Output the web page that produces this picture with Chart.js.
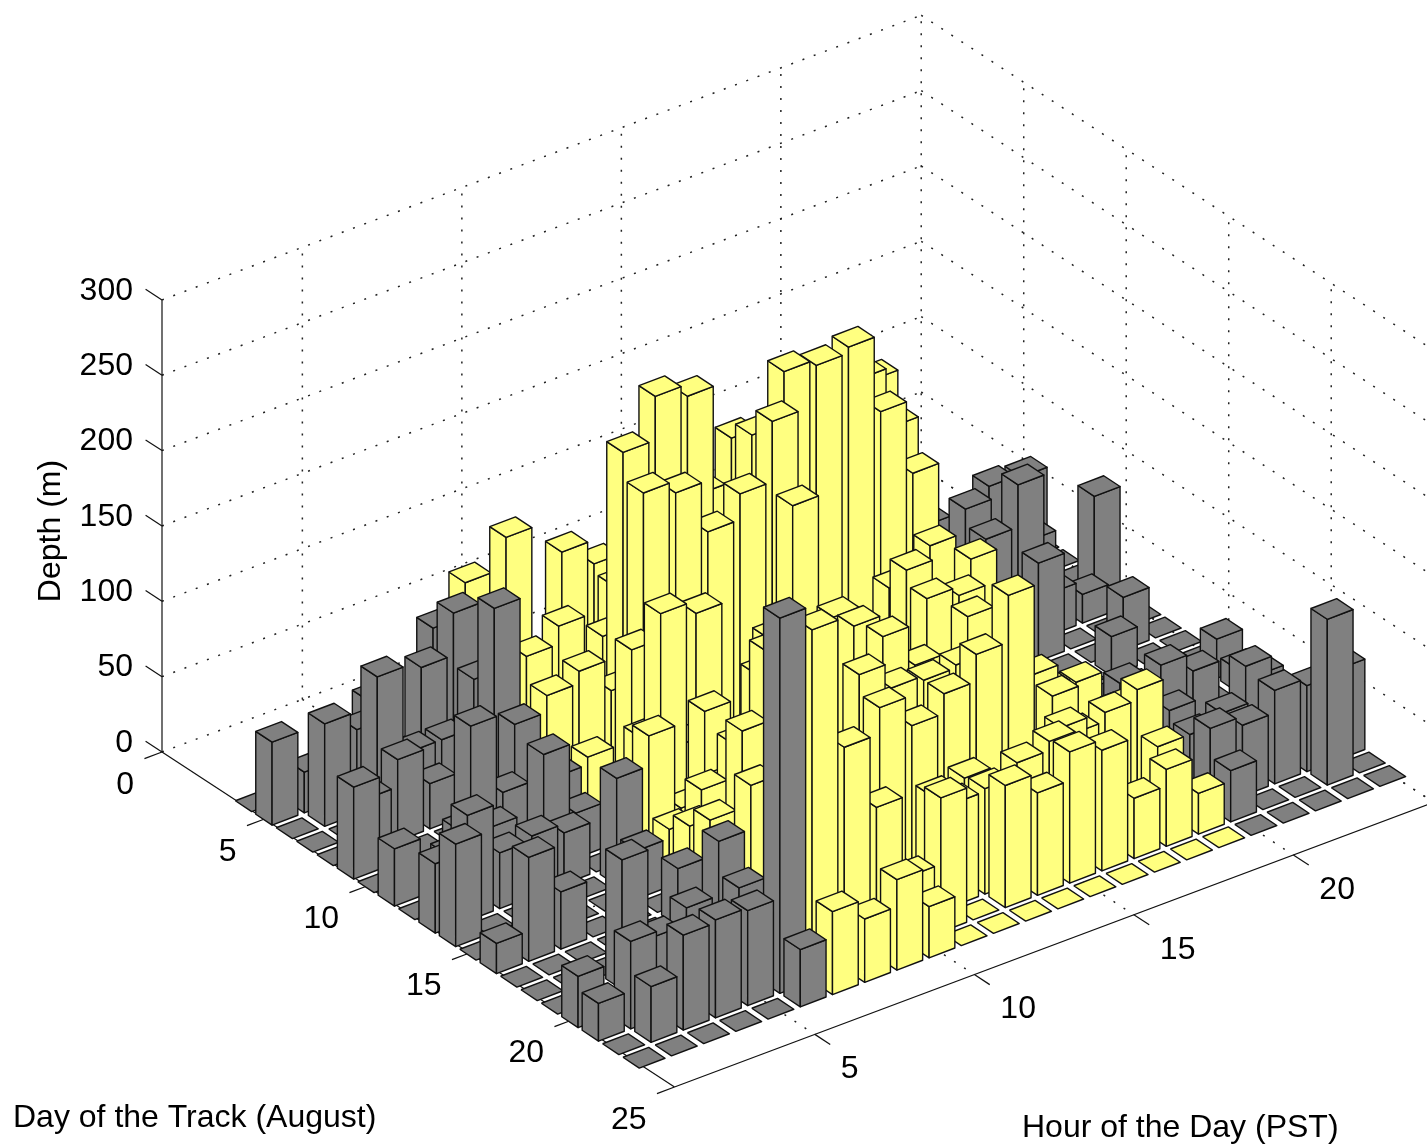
<!DOCTYPE html>
<html>
<head>
<meta charset="utf-8">
<style>
  html, body { margin: 0; padding: 0; background: #fff; }
  canvas { display: block; }
</style>
<script src="https://cdn.jsdelivr.net/npm/chart.js@4"></script>
</head>
<body>
<canvas id="depthChart" width="1427" height="1145"></canvas>
<script>
const hours = [1,2,3,4,5,6,7,8,9,10,11,12,13,14,15,16,17,18,19,20,21,22,23,24];
const days = [4,5,6,7,8,9,10,11,12,13,14,15,16,17,18,19,20,21,22,23];
const daylightHours = [7,8,9,10,11,12,13,14,15,16,17,18,19];

// depth per hour, one list per day of the track
const day4  = [0,0,0,0,0,0,0,0,0,0,0,0,0,0,0,0,0,0,0,0,0,0,0,0];
const day5  = [55,27,0,58,0,90,112,0,0,108,92,0,0,0,0,0,0,0,0,0,0,0,0,0];
const day6  = [0,68,56,0,81,109,0,0,0,0,86,0,0,0,0,0,0,0,158,0,0,0,0,0];
const day7  = [0,0,100,42,42,74,160,0,0,70,132,0,140,169,0,0,0,176,136,62,0,72,70,0];
const day8  = [0,36,54,30,0,130,90,102,40,201,230,222,110,180,214,210,214,163,114,0,0,0,0,0];
const day9  = [61,0,0,0,0,62,73,81,60,183,175,141,158,198,0,0,0,0,0,91,0,54,0,67];
const day10 = [0,0,0,86,34,0,0,0,96,0,104,0,0,151,0,0,72,0,0,80,108,28,19,0];
const day11 = [38,0,34,28,0,45,50,0,0,35,0,0,0,0,0,0,0,0,0,0,65,0,0,0];
const day12 = [0,35,0,0,77,30,0,64,0,65,0,97,0,95,0,0,118,0,0,0,0,0,35,0];
const day13 = [46,70,37,40,34,0,0,155,0,0,90,0,0,98,0,0,0,0,0,0,0,26,0,0];
const day14 = [68,0,0,0,0,71,91,35,40,0,0,0,0,0,136,0,127,0,0,0,0,0,0,0];
const day15 = [0,0,0,0,0,32,38,56,78,132,0,0,0,0,126,120,0,0,0,0,21,0,0,26];
const day16 = [20,69,38,0,0,0,49,0,0,0,0,0,126,99,0,0,0,50,47,0,0,0,0,15];
const day17 = [0,0,0,0,0,38,62,113,0,0,0,0,0,0,132,0,77,0,0,0,51,39,0,20];
const day18 = [0,0,0,0,0,0,0,0,0,0,135,118,115,117,0,0,72,0,48,0,0,0,43,0];
const day19 = [0,0,86,27,38,74,103,0,0,0,122,102,115,133,164,0,56,62,69,47,0,0,0,0];
const day20 = [34,0,0,0,0,52,0,0,0,0,0,64,68,0,55,77,0,0,40,40,46,0,0,0];
const day21 = [25,58,0,0,0,0,0,0,0,0,0,68,70,79,85,0,0,0,0,53,47,62,57,60];
const day22 = [0,37,63,65,63,249,233,147,99,45,89,0,81,68,87,80,40,51,27,34,0,0,110,0];
const day23 = [0,0,0,0,0,38,55,42,60,34,0,0,0,0,0,0,0,0,0,0,0,0,0,0];
const depths = [day4,day5,day6,day7,day8,day9,day10,day11,day12,day13,day14,day15,day16,day17,day18,day19,day20,day21,day22,day23];

const depthTicks = [0,50,100,150,200,250,300];
const dayTicks = [0,5,10,15,20,25];
const hourTicks = [5,10,15,20];

// oblique view of the box, the numbers are pixels per unit of each axis
const barHalf = 0.4;
const project = (d, h, z) => ({
    x: 142.6 + 20.4 * d + 32.2 * h,
    y: 759.5 + 13.5 * d - 12.25 * h - 1.507 * z
});
// the axes box is a bit narrower along hours than the bars are
const hourMin = 0.6, hourMax = 24.4, dayMin = 0, dayMax = 25;
const boxPoint = (d, h, z) => ({
    x: 162 + 20.5 * d + 31.9 * (h - hourMin),
    y: 752 + 13.4 * d - 11.96 * (h - hourMin) - 1.507 * z
});

const YELLOW = '#ffff80';
const GRAY = '#808080';

const shape = (points, color) => ({
    data: points.concat([points[0]]),
    backgroundColor: color,
    borderColor: '#111',
    borderWidth: 1.4,
    borderJoinStyle: 'round',
    fill: 'shape',
    pointRadius: 0,
    tension: 0,
    clip: false
});
const gridLine = (a, b) => ({
    data: [a, b],
    borderColor: '#222',
    borderWidth: 1.5,
    borderDash: [2, 10],
    fill: false,
    pointRadius: 0,
    tension: 0,
    clip: false
});
const axisLine = (a, b) => ({
    data: [a, b],
    borderColor: '#111',
    borderWidth: 1.2,
    fill: false,
    pointRadius: 0,
    tension: 0,
    clip: false
});

const paintOrder = [];

// dotted walls and floor
depthTicks.forEach(z => {
    paintOrder.push(gridLine(boxPoint(dayMin, hourMin, z), boxPoint(dayMin, hourMax, z)));
    paintOrder.push(gridLine(boxPoint(dayMin, hourMax, z), boxPoint(dayMax, hourMax, z)));
});
hourTicks.concat([hourMax]).forEach(h => {
    paintOrder.push(gridLine(boxPoint(dayMin, h, 0), boxPoint(dayMin, h, 300)));
    paintOrder.push(gridLine(boxPoint(dayMin, h, 0), boxPoint(dayMax, h, 0)));
});
dayTicks.slice(1, -1).forEach(d => {
    paintOrder.push(gridLine(boxPoint(d, hourMax, 0), boxPoint(d, hourMax, 300)));
    paintOrder.push(gridLine(boxPoint(d, hourMin, 0), boxPoint(d, hourMax, 0)));
});

// solid axes and their ticks
paintOrder.push(axisLine(boxPoint(dayMin, hourMin, 0), boxPoint(dayMin, hourMin, 300)));
paintOrder.push(axisLine(boxPoint(dayMin, hourMin, 0), boxPoint(dayMax, hourMin, 0)));
paintOrder.push(axisLine(boxPoint(dayMax, hourMin, 0), boxPoint(dayMax, hourMax, 0)));
depthTicks.forEach(z => {
    paintOrder.push(axisLine(boxPoint(dayMin, hourMin, z), boxPoint(dayMin - 0.8, hourMin, z)));
});
dayTicks.forEach(d => {
    paintOrder.push(axisLine(boxPoint(d, hourMin, 0), boxPoint(d, hourMin - 0.55, 0)));
});
hourTicks.forEach(h => {
    paintOrder.push(axisLine(boxPoint(dayMax, h, 0), boxPoint(dayMax + 0.75, h, 0)));
});

// bars, back to front
days.forEach((d, di) => {
    for (let hi = hours.length - 1; hi >= 0; hi--) {
        const h = hours[hi];
        const z = depths[di][hi];
        const color = daylightHours.includes(h) ? YELLOW : GRAY;
        const a = d - barHalf, b = d + barHalf, c = h - barHalf, e = h + barHalf;
        if (z > 0) {
            paintOrder.push(shape([project(a, c, 0), project(b, c, 0), project(b, c, z), project(a, c, z)], color));
            paintOrder.push(shape([project(b, c, 0), project(b, e, 0), project(b, e, z), project(b, c, z)], color));
        }
        paintOrder.push(shape([project(a, c, z), project(b, c, z), project(b, e, z), project(a, e, z)], color));
    }
});

const tickFont = '32px "Liberation Sans", Arial, sans-serif';

const axisLabels = {
    id: 'axisLabels',
    afterDraw(chart) {
        const { ctx } = chart;
        const sx = chart.scales.x, sy = chart.scales.y;
        const put = (text, p, dx, dy, align) => {
            ctx.textAlign = align;
            ctx.fillText(text, sx.getPixelForValue(p.x) + dx, sy.getPixelForValue(p.y) + dy);
        };
        ctx.save();
        ctx.fillStyle = '#000';
        ctx.font = tickFont;
        ctx.textBaseline = 'middle';
        depthTicks.forEach(z => put(String(z), boxPoint(dayMin, hourMin, z), -29, -9, 'right'));
        dayTicks.forEach(d => put(String(d), boxPoint(d, hourMin, 0), -28, 33, 'right'));
        hourTicks.forEach(h => put(String(h), boxPoint(dayMax, h, 0), 26, 35, 'left'));
        ctx.textAlign = 'left';
        ctx.fillText('Day of the Track (August)', 13, 1118);
        ctx.fillText('Hour of the Day (PST)', 1022, 1128);
        ctx.translate(51, 531);
        ctx.rotate(-Math.PI / 2);
        ctx.textAlign = 'center';
        ctx.fillText('Depth (m)', 0, 0);
        ctx.restore();
    }
};

new Chart(document.getElementById('depthChart'), {
    type: 'line',
    data: { datasets: paintOrder.reverse() },
    options: {
        responsive: false,
        animation: false,
        events: [],
        layout: { padding: 0 },
        scales: {
            x: { type: 'linear', min: 0, max: 1427, display: false },
            y: { type: 'linear', min: 0, max: 1145, reverse: true, display: false }
        },
        plugins: { legend: { display: false }, tooltip: { enabled: false } }
    },
    plugins: [axisLabels]
});
</script>
</body>
</html>
